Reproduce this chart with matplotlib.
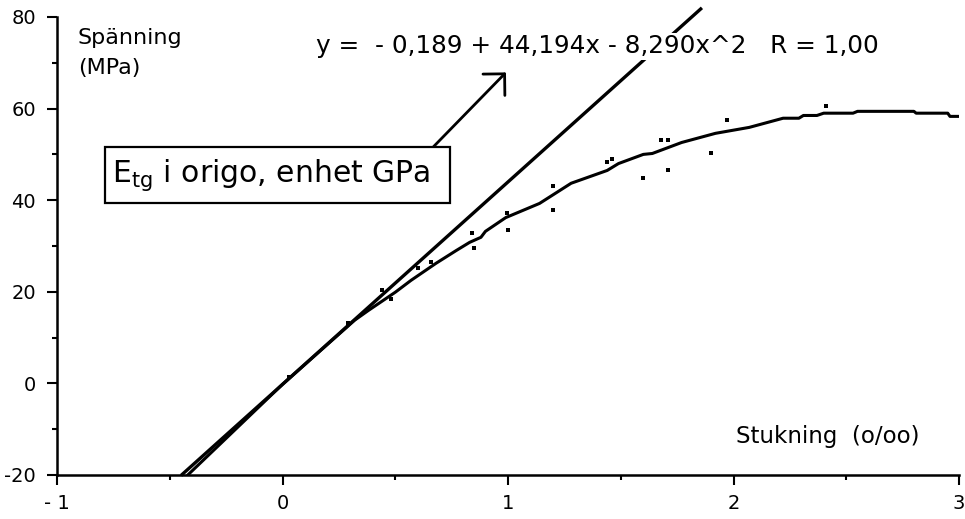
import matplotlib.pyplot as plt
from matplotlib.patches import Rectangle
from matplotlib.ticker import MultipleLocator

# measured stress-strain curve (Stukning o/oo, Spänning MPa)
curve_x = [-0.42, 0.0, 0.32, 0.38, 0.50, 0.57, 0.68, 0.77, 0.83, 0.88, 0.90, 0.99,
           1.14, 1.28, 1.44, 1.49, 1.60, 1.64, 1.77, 1.92, 2.07, 2.22, 2.29, 2.31,
           2.37, 2.40, 2.53, 2.55, 2.80, 2.81, 2.95, 2.96, 3.0]
curve_y = [-20.0, -0.2, 13.8, 15.9, 19.9, 22.5, 26.2, 29.0, 30.8, 31.9, 33.2, 36.2,
           39.3, 43.7, 46.5, 48.0, 50.0, 50.2, 52.6, 54.6, 55.9, 57.9, 57.9, 58.5,
           58.5, 59.0, 59.0, 59.4, 59.4, 59.0, 59.0, 58.3, 58.3]

# single measurement points
dots_x = [0.03, 0.29, 0.44, 0.48, 0.60, 0.66, 0.84, 0.85, 0.995, 1.0, 1.20, 1.20,
          1.44, 1.46, 1.60, 1.68, 1.71, 1.71, 1.90, 1.97, 2.41]
dots_y = [1.3, 13.1, 20.3, 18.5, 25.3, 26.6, 32.8, 29.5, 37.3, 33.6, 43.0, 37.8,
          48.3, 48.9, 44.8, 53.1, 53.1, 46.7, 50.4, 57.6, 60.5]

# tangent in origin
tangent_x = [-0.45, 1.86]
tangent_y = [-20.1, 82.0]

xticks = [-1, 0, 1, 2, 3]
xticklabels = ['- 1', '0', '1', '2', '3']
yticks = [-20, 0, 20, 40, 60, 80]
yticklabels = ['-20', '0', '20', '40', '60', '80']

plt.rcParams['font.family'] = 'DejaVu Sans'

fig = plt.figure(figsize=(9.65, 5.19), dpi=100)
ax = fig.add_axes([57 / 965, 44 / 519, 902 / 965, 458 / 519])

ax.plot(tangent_x, tangent_y, color='black', lw=2.4, clip_on=False, solid_capstyle='butt')
ax.plot(curve_x, curve_y, color='black', lw=2.2)
ax.plot(dots_x, dots_y, 's', color='black', ms=2.2, mew=0)

ax.set_xlim(-1, 3)
ax.set_ylim(-20, 80)
for s in ['top', 'right']:
    ax.spines[s].set_visible(False)
for s in ['left', 'bottom']:
    ax.spines[s].set_linewidth(1.8)

ax.set_xticks(xticks)
ax.set_xticklabels(xticklabels)
ax.set_yticks(yticks)
ax.set_yticklabels(yticklabels)
ax.xaxis.set_minor_locator(MultipleLocator(0.5))
ax.yaxis.set_minor_locator(MultipleLocator(10))
ax.tick_params(which='major', length=7, width=1.5, labelsize=14, pad=7)
ax.tick_params(axis='y', which='major', pad=8)
ax.tick_params(which='minor', length=3.5, width=1.5)

ax.text(-0.907, 75.5, 'Spänning', fontsize=16, va='center', ha='left')
ax.text(-0.907, 68.8, '(MPa)', fontsize=16, va='center', ha='left')
ax.text(0.148, 73.6, 'y =  - 0,189 + 44,194x - 8,290x^2   R = 1,00', fontsize=17.8,
        va='center', ha='left', zorder=5,
        bbox=dict(boxstyle='square,pad=0.05', fc='white', ec='none'))
ax.text(2.013, -11.6, 'Stukning  (o/oo)', fontsize=16.5, va='center', ha='left')

# label box for the tangent modulus
ax.add_patch(Rectangle((-0.785, 39.3), 1.526, 12.4, fc='white', ec='black', lw=1.6, zorder=4))
ax.text(-0.756, 45.6, r'E$_{\mathregular{tg}}$ i origo, enhet GPa', fontsize=21.5,
        va='center', ha='left', zorder=5)

ax.annotate('', xy=(0.991, 67.9), xytext=(0.67, 51.7),
            arrowprops=dict(arrowstyle='->,head_length=1.1,head_width=1.1',
                            color='black', lw=2.0, shrinkA=0, shrinkB=0))

fig.savefig('out.png', dpi=100)
